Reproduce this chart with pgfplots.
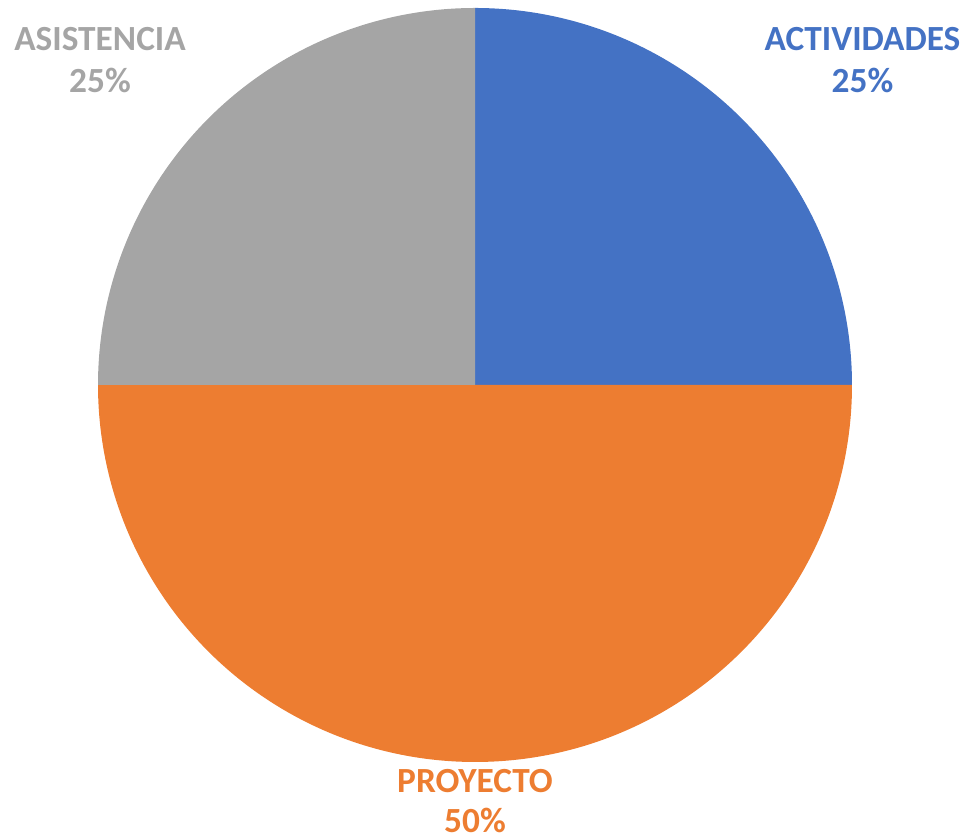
\documentclass[border=0pt]{standalone}
\usepackage{pgfplots}
\usepackage{pgfplotstable}
\pgfplotsset{compat=1.18}
\usepackage{fontspec}
\setmainfont{Carlito}

\definecolor{actblue}{HTML}{4472C4}
\definecolor{proyorange}{HTML}{ED7D31}
\definecolor{asisgray}{HTML}{A5A5A5}

% slices, clockwise from 12 o'clock
\pgfplotstableread{
label value color
ACTIVIDADES 25 actblue
PROYECTO 50 proyorange
ASISTENCIA 25 asisgray
}\piedata

\newcommand\R{377}

\begin{document}
\begin{tikzpicture}
\begin{axis}[
    x=0.3pt, y=0.3pt,
    xmin=-475, xmax=494,
    ymin=-455, ymax=385,
    hide axis,
    clip=false,
]
\path[use as bounding box] (axis cs:-475,-455) rectangle (axis cs:494,385);
\def\cum{0}
\pgfplotsforeachungrouped \i in {0,1,2} {
    \pgfplotstablegetelem{\i}{value}\of\piedata
    \let\v=\pgfplotsretval
    \pgfplotstablegetelem{\i}{color}\of\piedata
    \let\c=\pgfplotsretval
    \pgfmathsetmacro\sa{90-\cum*3.6}
    \pgfmathsetmacro\ea{90-(\cum+\v)*3.6}
    \pgfmathsetmacro\sx{\R*cos(\sa)}
    \pgfmathsetmacro\sy{\R*sin(\sa)}
    \edef\cmd{\noexpand\fill[\c] (axis cs:0,0) -- (axis cs:\sx,\sy)
        arc[start angle=\sa, end angle=\ea, radius=\R*0.3pt] -- cycle;}
    \cmd
    \pgfmathsetmacro\cum{\cum+\v}
    \xdef\cum{\cum}
}

\begin{scope}[font=\bfseries\fontsize{10.6}{12}\selectfont]
\node[anchor=base, text=actblue] at (axis cs:387.5,334) {ACTIVIDADES};
\node[anchor=base, text=actblue] at (axis cs:387.5,292) {25\%};
\node[anchor=base, text=asisgray] at (axis cs:-375,334) {ASISTENCIA};
\node[anchor=base, text=asisgray] at (axis cs:-375,292) {25\%};
\node[anchor=base, text=proyorange] at (axis cs:0,-408) {PROYECTO};
\node[anchor=base, text=proyorange] at (axis cs:0,-448) {50\%};
\end{scope}
\end{axis}
\end{tikzpicture}
\end{document}
